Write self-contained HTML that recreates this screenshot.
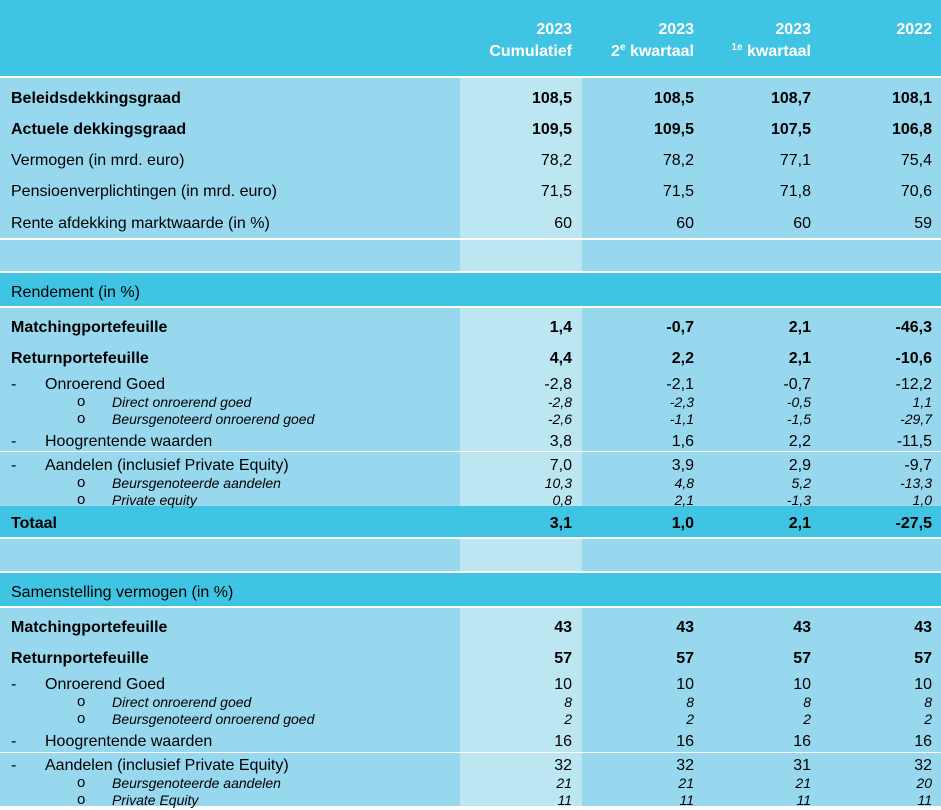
<!DOCTYPE html>
<html><head><meta charset="utf-8">
<style>
body{margin:0;width:941px;height:806px;overflow:hidden;background:#fff;font-family:"Liberation Sans",Arial,sans-serif;}
#t{position:relative;width:941px;height:806px;background:#fff;}
.b{position:absolute;}
.tx{position:absolute;white-space:nowrap;line-height:20px;color:#000;}
.r{text-align:right;}
sup{font-size:10px;line-height:0;vertical-align:6px;}
</style></head><body>
<div id="t"></div>
<script>
const cols=[572,694,811,932];
const hdrYear=["2023","2023","2023","2022"];
const hdrSub=["Cumulatief","2<sup>e</sup> kwartaal","<sup>1e</sup> kwartaal",""];
const sec1=[
["Beleidsdekkingsgraad","bold",97,["108,5","108,5","108,7","108,1"]],
["Actuele dekkingsgraad","bold",128,["109,5","109,5","107,5","106,8"]],
["Vermogen (in mrd. euro)","n",159,["78,2","78,2","77,1","75,4"]],
["Pensioenverplichtingen (in mrd. euro)","n",190,["71,5","71,5","71,8","70,6"]],
["Rente afdekking marktwaarde (in %)","n",222,["60","60","60","59"]]];
const sec2=[
["Matchingportefeuille","bold",326,["1,4","-0,7","2,1","-46,3"]],
["Returnportefeuille","bold",357,["4,4","2,2","2,1","-10,6"]],
["Onroerend Goed","dash",383,["-2,8","-2,1","-0,7","-12,2"]],
["Direct onroerend goed","sub",400,["-2,8","-2,3","-0,5","1,1"]],
["Beursgenoteerd onroerend goed","sub",417,["-2,6","-1,1","-1,5","-29,7"]],
["Hoogrentende waarden","dash",440,["3,8","1,6","2,2","-11,5"]],
["Aandelen (inclusief Private Equity)","dash",464,["7,0","3,9","2,9","-9,7"]],
["Beursgenoteerde aandelen","sub",481,["10,3","4,8","5,2","-13,3"]],
["Private equity","sub",498,["0,8","2,1","-1,3","1,0"]],
["Totaal","bold",522,["3,1","1,0","2,1","-27,5"]]];
const sec3=[
["Matchingportefeuille","bold",626,["43","43","43","43"]],
["Returnportefeuille","bold",657,["57","57","57","57"]],
["Onroerend Goed","dash",683,["10","10","10","10"]],
["Direct onroerend goed","sub",700,["8","8","8","8"]],
["Beursgenoteerd onroerend goed","sub",717,["2","2","2","2"]],
["Hoogrentende waarden","dash",740,["16","16","16","16"]],
["Aandelen (inclusief Private Equity)","dash",764,["32","32","31","32"]],
["Beursgenoteerde aandelen","sub",781,["21","21","21","20"]],
["Private Equity","sub",798,["11","11","11","11"]]];
const T=document.getElementById('t');
function box(x,y,w,h,c,name){const d=document.createElement('div');d.className='b';


d.style.cssText+=`left:${x}px;top:${y}px;width:${w}px;height:${h}px;background:${c}`;T.appendChild(d);}
function txt(s,x,y,o,name,right){const d=document.createElement('div');d.className='tx'+(right?' r':'');


d.innerHTML=s;let st=`top:${y-8}px;`;
if(right){st+=`left:${x-200}px;width:200px;`}else st+=`left:${x}px;`;
d.style.cssText=st+(o||'');T.appendChild(d);}
const C="#40C4E4",L="#98D8EE",H="#BDE6F3";
box(0,0,941,76,C,'header-band');
box(0,78,941,160,L,'section-1-body');box(460,78,122,160,H,'cumulative-column');
box(0,240,941,31,L,'spacer-1');box(460,240,122,31,H,'spacer-1-cum');
box(0,273,941,33,C,'rendement-header');
box(0,308,941,198,L,'section-2-body');box(460,308,122,198,H,'cumulative-column-2');
box(0,451,941,1,'#fff','divider-2');
box(0,506,941,31,C,'totaal-band');
box(0,539,941,32,L,'spacer-2');box(460,539,122,32,H,'spacer-2-cum');
box(0,573,941,33,C,'samenstelling-header');
box(0,608,941,198,L,'section-3-body');box(460,608,122,198,H,'cumulative-column-3');
box(0,752,941,1,'#fff','divider-3');
cols.forEach((x,i)=>{
txt(hdrYear[i],x,28,'color:#fff;font-weight:bold;font-size:16px','header-year',true);
if(hdrSub[i])txt(hdrSub[i],x,50,'color:#fff;font-weight:bold;font-size:16px','header-period',true);
});
txt("Rendement (in %)",11,291,'font-size:16px','rendement-title');
txt("Samenstelling vermogen (in %)",11,591,'font-size:16px','samenstelling-title');
function rows(arr){arr.forEach(r=>{
const [lab,ty,y,vals]=r;let st='font-size:16px;';
if(ty=='bold'){st+='font-weight:bold;';txt(lab,11,y,st,'row-label');}
else if(ty=='n'){txt(lab,11,y,st,'row-label');}
else if(ty=='dash'){txt('-',11,y,st,'row-dash');txt(lab,45,y,st,'row-label');}
else{st='font-size:14px;font-style:italic;';txt('o',77,y,'font-size:15px','row-bullet');txt(lab,112,y,st,'row-label');}
vals.forEach((v,i)=>txt(v,cols[i],y,st,'row-value',true));
});}
rows(sec1);rows(sec2);rows(sec3);
</script>
</body></html>
